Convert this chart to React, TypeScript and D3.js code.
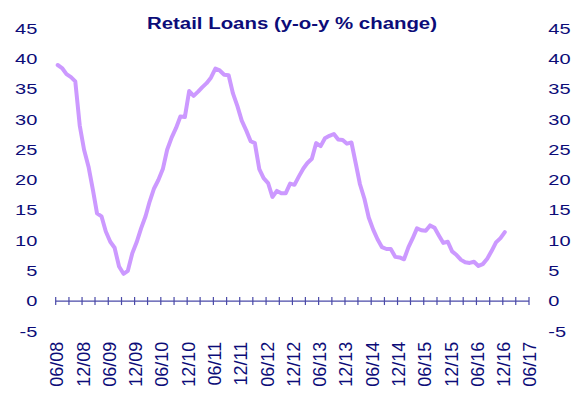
import React from "react";
import * as d3 from "d3";

// Monthly y-o-y % change, starting 06/2008
const startMonth = new Date(2008, 5, 1);
const retailLoans = [
  39.0, 38.5, 37.5, 37.0, 36.3, 29.0, 25.0, 22.2, 18.3, 14.5,
  14.0, 11.5, 9.8, 8.8, 5.7, 4.5, 5.0, 7.9, 9.7, 12.0,
  14.0, 16.4, 18.6, 20.0, 21.8, 25.0, 27.0, 28.6, 30.5, 30.4,
  34.7, 33.9, 34.6, 35.3, 36.0, 36.9, 38.4, 38.1, 37.4, 37.3,
  34.3, 32.2, 29.8, 28.2, 26.4, 26.1, 21.8, 20.3, 19.5, 17.2,
  18.2, 17.8, 17.8, 19.4, 19.2, 20.6, 21.9, 22.8, 23.5, 26.1,
  25.6, 26.9, 27.3, 27.6, 26.7, 26.6, 26.0, 26.2, 22.6, 19.3,
  16.9, 13.8, 11.8, 10.2, 8.9, 8.6, 8.6, 7.3, 7.2, 6.9,
  8.9, 10.3, 12.0, 11.7, 11.6, 12.5, 12.1, 10.8, 9.6, 9.8,
  8.2, 7.6, 6.8, 6.4, 6.3, 6.5, 5.8, 6.1, 7.0, 8.3,
  9.7, 10.4, 11.4,
];
const xTickLabels = [
  "06/08", "12/08", "06/09", "12/09", "06/10", "12/10", "06/11", "12/11",
  "06/12", "12/12", "06/13", "12/13", "06/14", "12/14", "06/15", "12/15",
  "06/16", "12/16", "06/17",
];
const yTicks = [-5, 0, 5, 10, 15, 20, 25, 30, 35, 40, 45];
const title = "Retail Loans (y-o-y % change)";

const W = 573;
const H = 393;
const FONT = "'Liberation Sans', Arial, Helvetica, sans-serif";
const NAVY = "#0c0c78";

export default function App() {
  const endMonth = d3.timeMonth.offset(startMonth, 108);
  const x = d3.scaleTime().domain([startMonth, endMonth]).range([55.7, 529]);
  const y = d3.scaleLinear().domain([-5, 45]).range([331.3, 28.7]);

  const points = retailLoans.map((v, i) => ({
    date: d3.timeDay.offset(d3.timeMonth.offset(startMonth, i), 14),
    v,
  }));
  const line = d3
    .line<{ date: Date; v: number }>()
    .x((d) => x(d.date))
    .y((d) => y(d.v));

  const ticks = d3.range(0, 37).map((k) => d3.timeMonth.offset(startMonth, 3 * k));
  const labelDates = xTickLabels.map((_, k) => d3.timeMonth.offset(startMonth, 6 * k));
  const y0 = y(0);

  return (
    <svg
      width={W}
      height={H}
      style={{ position: "absolute", left: 0, top: 0, background: "#fff" }}
      fontFamily={FONT}
    >
      <text
        transform={`translate(292,29) scale(1.2,1)`}
        textAnchor="middle"
        fontWeight="bold"
        fontSize={17}
        fill={NAVY}
      >
        {title}
      </text>

      {yTicks.map((t) => (
        <g key={t}>
          <text
            transform={`translate(37.3,${y(t)}) scale(1.38,1)`}
            textAnchor="end"
            dy="0.36em"
            fontSize={14.5}
            fill={NAVY}
          >
            {t}
          </text>
          <text
            transform={`translate(548.3,${y(t)}) scale(1.38,1)`}
            textAnchor="start"
            dy="0.36em"
            fontSize={14.5}
            fill={NAVY}
          >
            {t}
          </text>
        </g>
      ))}

      <line x1={x(startMonth)} x2={x(endMonth)} y1={y0} y2={y0} stroke="#4a4aa8" strokeWidth={1.2} />
      {ticks.map((d, k) => (
        <line key={k} x1={x(d)} x2={x(d)} y1={y0 - 4} y2={y0 + 4} stroke="#4a4aa8" strokeWidth={1.2} />
      ))}

      {labelDates.map((d, k) => (
        <text
          key={k}
          transform={`translate(${x(d) + 1},341.7) rotate(-90)`}
          textAnchor="end"
          dy="0.36em"
          fontSize={18}
          fill={NAVY}
        >
          {xTickLabels[k]}
        </text>
      ))}

      <path
        d={line(points) || ""}
        fill="none"
        stroke="#cc99ff"
        strokeWidth={4}
        strokeLinejoin="round"
        strokeLinecap="round"
      />
    </svg>
  );
}
